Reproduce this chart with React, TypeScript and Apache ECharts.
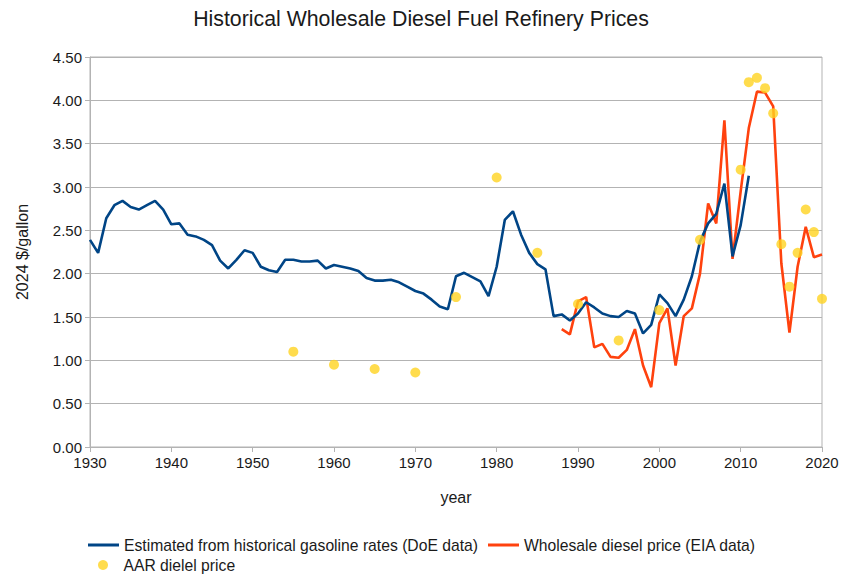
import React, { useEffect, useRef } from "react";
import * as echarts from "echarts";

const doeYears: number[] = [
  1930, 1931, 1932, 1933, 1934, 1935, 1936, 1937, 1938, 1939,
  1940, 1941, 1942, 1943, 1944, 1945, 1946, 1947, 1948, 1949,
  1950, 1951, 1952, 1953, 1954, 1955, 1956, 1957, 1958, 1959,
  1960, 1961, 1962, 1963, 1964, 1965, 1966, 1967, 1968, 1969,
  1970, 1971, 1972, 1973, 1974, 1975, 1976, 1977, 1978, 1979,
  1980, 1981, 1982, 1983, 1984, 1985, 1986, 1987, 1988, 1989,
  1990, 1991, 1992, 1993, 1994, 1995, 1996, 1997, 1998, 1999,
  2000, 2001, 2002, 2003, 2004, 2005, 2006, 2007, 2008, 2009,
  2010, 2011,
];
const doeValues: number[] = [
  2.39, 2.24, 2.64, 2.79, 2.84, 2.77, 2.74, 2.79, 2.84, 2.74,
  2.57, 2.58, 2.45, 2.43, 2.39, 2.33, 2.15, 2.06, 2.16, 2.27,
  2.24, 2.08, 2.04, 2.02, 2.16, 2.16, 2.14, 2.14, 2.15, 2.06,
  2.10, 2.08, 2.06, 2.03, 1.95, 1.92, 1.92, 1.93, 1.90, 1.85,
  1.80, 1.77, 1.70, 1.62, 1.59, 1.97, 2.01, 1.96, 1.91, 1.74,
  2.08, 2.62, 2.72, 2.45, 2.24, 2.11, 2.05, 1.51, 1.53, 1.46,
  1.54, 1.67, 1.61, 1.54, 1.51, 1.50, 1.57, 1.54, 1.31, 1.41,
  1.76, 1.66, 1.51, 1.70, 1.97, 2.37, 2.58, 2.69, 3.04, 2.20,
  2.56, 3.13,
];

const eiaYears: number[] = [
  1988, 1989, 1990, 1991, 1992, 1993, 1994, 1995, 1996, 1997,
  1998, 1999, 2000, 2001, 2002, 2003, 2004, 2005, 2006, 2007,
  2008, 2009, 2010, 2011, 2012, 2013, 2014, 2015, 2016, 2017,
  2018, 2019, 2020,
];
const eiaValues: number[] = [
  1.36, 1.30, 1.68, 1.73, 1.15, 1.19, 1.04, 1.03, 1.12, 1.36,
  0.94, 0.69, 1.43, 1.60, 0.94, 1.51, 1.60, 2.00, 2.81, 2.58,
  3.77, 2.17, 2.95, 3.68, 4.10, 4.09, 3.93, 2.12, 1.32, 2.08,
  2.54, 2.19, 2.22,
];

const aarYears: number[] = [
  1955, 1960, 1965, 1970, 1975, 1980, 1985, 1990, 1995, 2000,
  2005, 2010, 2011, 2012, 2013, 2014, 2015, 2016, 2017, 2018,
  2019, 2020,
];
const aarValues: number[] = [
  1.10, 0.95, 0.90, 0.86, 1.73, 3.11, 2.24, 1.65, 1.23, 1.58,
  2.39, 3.20, 4.21, 4.26, 4.14, 3.85, 2.34, 1.85, 2.24, 2.74,
  2.48, 1.71,
];

const seriesNames: string[] = [
  "Estimated from historical gasoline rates (DoE data)",
  "Wholesale diesel price (EIA data)",
  "AAR dielel price",
];

const titleText = "Historical Wholesale Diesel Fuel Refinery Prices";
const xAxisTitle = "year";
const yAxisTitle = "2024 $/gallon";

const FONT = "'Liberation Sans', Arial, sans-serif";
const TEXT = "#1a1a1a";
const BLUE = "#004586";
const ORANGE = "#ff420e";
const YELLOW = "#ffd320";

const zip = (xs: number[], ys: number[]) => xs.map((x, i) => [x, ys[i]]);

export default function App() {
  const ref = useRef<HTMLDivElement>(null);
  useEffect(() => {
    if (!ref.current) return;
    const chart = echarts.init(ref.current, undefined, { renderer: "svg" });
    chart.setOption({
      animation: false,
      backgroundColor: "#ffffff",
      textStyle: { fontFamily: FONT },
      title: {
        text: titleText,
        left: "center",
        top: 3,
        textStyle: { fontFamily: FONT, fontSize: 21.3, fontWeight: "normal", color: TEXT },
      },
      grid: {
        left: 90,
        right: 20,
        top: 57,
        bottom: 128,
        show: true,
        borderColor: "#b3b3b3",
        borderWidth: 1,
      },
      legend: [
        {
          data: [
            { name: seriesNames[0], icon: "rect", itemStyle: { color: BLUE } },
            { name: seriesNames[1], icon: "rect", itemStyle: { color: ORANGE } },
          ],
          left: 83,
          top: 532,
          itemWidth: 31,
          itemHeight: 3,
          itemGap: 10,
          textStyle: { fontFamily: FONT, fontSize: 15.7, color: TEXT },
        },
        {
          data: [{ name: seriesNames[2], icon: "circle" }],
          left: 93,
          top: 552,
          itemWidth: 31,
          itemHeight: 10,
          itemGap: 10,
          textStyle: { fontFamily: FONT, fontSize: 15.7, color: TEXT },
        },
      ],
      xAxis: {
        type: "value",
        min: 1930,
        max: 2020,
        interval: 10,
        name: xAxisTitle,
        nameLocation: "middle",
        nameGap: 42,
        nameTextStyle: { fontFamily: FONT, fontSize: 16, color: TEXT },
        axisLine: { show: true, lineStyle: { color: "#b3b3b3" } },
        axisTick: { show: true, length: 5, lineStyle: { color: "#b3b3b3" } },
        axisLabel: {
          fontFamily: FONT,
          fontSize: 15,
          color: TEXT,
          margin: 8,
          formatter: (v: number) => String(v),
        },
        splitLine: { show: false },
      },
      yAxis: {
        type: "value",
        min: 0,
        max: 4.5,
        interval: 0.5,
        name: yAxisTitle,
        nameLocation: "middle",
        nameGap: 60,
        nameTextStyle: { fontFamily: FONT, fontSize: 16, color: TEXT },
        axisLine: { show: true, lineStyle: { color: "#b3b3b3" } },
        axisTick: { show: true, length: 5, lineStyle: { color: "#b3b3b3" } },
        axisLabel: {
          fontFamily: FONT,
          fontSize: 15,
          color: TEXT,
          margin: 8,
          formatter: (v: number) => v.toFixed(2),
        },
        splitLine: { show: true, lineStyle: { color: "#b3b3b3", width: 1 } },
      },
      series: [
        {
          name: seriesNames[0],
          type: "line",
          data: zip(doeYears, doeValues),
          symbol: "none",
          lineStyle: { color: BLUE, width: 2.6 },
          itemStyle: { color: BLUE },
          z: 3,
        },
        {
          name: seriesNames[1],
          type: "line",
          data: zip(eiaYears, eiaValues),
          symbol: "none",
          lineStyle: { color: ORANGE, width: 2.6 },
          itemStyle: { color: ORANGE },
          z: 2,
        },
        {
          name: seriesNames[2],
          type: "scatter",
          data: zip(aarYears, aarValues),
          symbol: "circle",
          symbolSize: 10,
          itemStyle: { color: YELLOW },
          z: 4,
        },
      ],
    });
    return () => chart.dispose();
  }, []);
  return (
    <div
      ref={ref}
      style={{ position: "fixed", left: 0, top: 0, width: 842, height: 575, background: "#fff" }}
    />
  );
}
